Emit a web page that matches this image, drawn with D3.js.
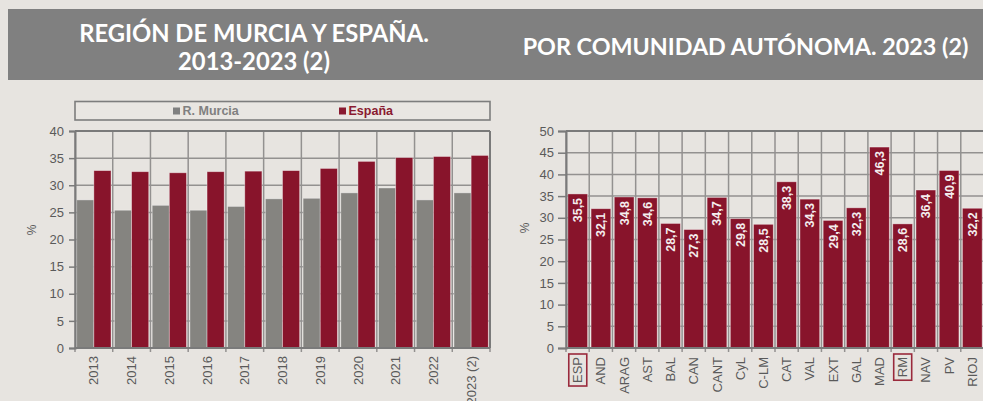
<!DOCTYPE html>
<html>
<head>
<meta charset="utf-8">
<script src="https://cdn.jsdelivr.net/npm/d3@7"></script>
<style>
  html, body { margin: 0; padding: 0; background: #e7e4e0; }
  svg { display: block; }
</style>
</head>
<body>
<svg id="chart" width="983" height="401"></svg>
<script>
// Left panel: Región de Murcia vs España, 2013-2023
const years = ["2013","2014","2015","2016","2017","2018","2019","2020","2021","2022","2023 (2)"];
const murcia = [27.3, 25.4, 26.3, 25.4, 26.1, 27.5, 27.6, 28.6, 29.5, 27.3, 28.6];
const espana = [32.7, 32.5, 32.3, 32.5, 32.6, 32.7, 33.1, 34.4, 35.1, 35.3, 35.5];
const seriesNames = ["R. Murcia", "España"];
const leftTicks = [0, 5, 10, 15, 20, 25, 30, 35, 40];

// Right panel: by autonomous community, 2023
const regions = ["ESP","AND","ARAG","AST","BAL","CAN","CANT","CyL","C-LM","CAT","VAL","EXT","GAL","MAD","RM","NAV","PV","RIOJ"];
const regionValues = [35.5, 32.1, 34.8, 34.6, 28.7, 27.3, 34.7, 29.8, 28.5, 38.3, 34.3, 29.4, 32.3, 46.3, 28.6, 36.4, 40.9, 32.2];
const highlighted = ["ESP", "RM"];
const rightTicks = [0, 5, 10, 15, 20, 25, 30, 35, 40, 45, 50];

const titleLeft = ["REGIÓN DE MURCIA Y ESPAÑA.", "2013-2023 (2)"];
const titleRight = "POR COMUNIDAD AUTÓNOMA. 2023 (2)";

const RED = "#88142b";
const GREY_BAR = "#858480";
const GRID = "#939190";
const AXIS_TEXT = "#5a5a5a";
const FONT = "Arial, 'Liberation Sans', sans-serif";
const TITLE_FONT = "Lato, 'Open Sans', sans-serif";

const svg = d3.select("#chart");

// ---- Title banner ----
svg.append("rect").attr("x", 8).attr("y", 9).attr("width", 975).attr("height", 71).attr("fill", "#808080");

function fitWidth(sel, target) {
  const w = sel.node().getComputedTextLength();
  const fs = parseFloat(sel.attr("font-size"));
  sel.attr("font-size", fs * target / w);
}
const t1 = svg.append("text").attr("x", 254).attr("y", 41.5).attr("text-anchor", "middle")
  .attr("font-family", TITLE_FONT).attr("font-weight", 700).attr("font-size", 21).attr("fill", "#fff")
  .text(titleLeft[0]);
fitWidth(t1, 350);
const t2 = svg.append("text").attr("x", 254).attr("y", 70).attr("text-anchor", "middle")
  .attr("font-family", TITLE_FONT).attr("font-weight", 700).attr("font-size", t1.attr("font-size")).attr("fill", "#fff")
  .text(titleLeft[1]);
const t3 = svg.append("text").attr("x", 745.5).attr("y", 55).attr("text-anchor", "middle")
  .attr("font-family", TITLE_FONT).attr("font-weight", 700).attr("font-size", 21).attr("fill", "#fff")
  .text(titleRight);
fitWidth(t3, 446);

// ---- Left chart ----
const L = { x0: 75, x1: 490, top: 131, bottom: 348 };
const xL = d3.scaleBand().domain(years).range([L.x0, L.x1]).padding(0);
const xSub = d3.scaleBand().domain(seriesNames).range([0, xL.bandwidth()]).paddingInner(0).paddingOuter(0.1);
const yL = d3.scaleLinear().domain([0, 40]).range([L.bottom, L.top]);

const gL = svg.append("g");
// horizontal grid
gL.selectAll("line.hg").data(leftTicks).join("line")
  .attr("x1", L.x0).attr("x2", L.x1).attr("y1", d => yL(d)).attr("y2", d => yL(d))
  .attr("stroke", GRID).attr("stroke-width", 1.5);
// vertical grid at category boundaries
const boundsL = years.map(y => xL(y)).concat([L.x1]);
gL.selectAll("line.vg").data(boundsL).join("line")
  .attr("x1", d => d).attr("x2", d => d).attr("y1", L.top).attr("y2", L.bottom + 4)
  .attr("stroke", GRID).attr("stroke-width", 1.5);

// bars
const rowsL = years.map((y, i) => ({ year: y, vals: [murcia[i], espana[i]] }));
const grpL = gL.selectAll("g.yr").data(rowsL).join("g").attr("transform", d => `translate(${xL(d.year)},0)`);
grpL.selectAll("rect").data(d => d.vals.map((v, k) => ({ name: seriesNames[k], v }))).join("rect")
  .attr("x", d => xSub(d.name)).attr("width", xSub.bandwidth())
  .attr("y", d => yL(d.v)).attr("height", d => yL(0) - yL(d.v))
  .attr("fill", d => d.name === "España" ? RED : GREY_BAR)
  .attr("stroke", "rgba(255,255,255,0.45)").attr("stroke-width", 0.8);

// frame: top and right border, axes
gL.append("line").attr("x1", L.x0).attr("x2", L.x1).attr("y1", L.top).attr("y2", L.top).attr("stroke", "#7a7a7a").attr("stroke-width", 2);
gL.append("line").attr("x1", L.x1).attr("x2", L.x1).attr("y1", L.top).attr("y2", L.bottom).attr("stroke", "#7a7a7a").attr("stroke-width", 2);
gL.append("line").attr("x1", L.x0).attr("x2", L.x1).attr("y1", L.bottom).attr("y2", L.bottom).attr("stroke", "#7a7a7a").attr("stroke-width", 2);

const yAxisL = gL.append("g").attr("transform", `translate(${L.x0},0)`)
  .call(d3.axisLeft(yL).tickValues(leftTicks).tickSize(6).tickPadding(5));
yAxisL.select(".domain").attr("stroke", "#7a7a7a").attr("stroke-width", 2);
yAxisL.selectAll(".tick line").attr("stroke", "#7a7a7a").attr("stroke-width", 1.5);
yAxisL.selectAll(".tick text").attr("font-family", FONT).attr("font-size", 13).attr("fill", AXIS_TEXT);

// x labels
gL.selectAll("text.xl").data(years).join("text")
  .attr("transform", d => `translate(${xL(d) + xL.bandwidth() / 2},356) rotate(-90)`)
  .attr("text-anchor", "end").attr("dy", "0.35em")
  .attr("font-family", FONT).attr("font-size", 13).attr("fill", AXIS_TEXT)
  .text(d => d);

svg.append("text").attr("transform", "translate(32,230) rotate(-90)").attr("text-anchor", "middle")
  .attr("dy", "0.35em").attr("font-family", FONT).attr("font-size", 12).attr("fill", AXIS_TEXT).text("%");

// legend
const lg = svg.append("g");
lg.append("rect").attr("x", 75).attr("y", 101.5).attr("width", 415).attr("height", 18.5)
  .attr("fill", "#e9e6e2").attr("stroke", "#7d7d7d").attr("stroke-width", 1.6);
const legendItems = [
  { name: seriesNames[0], color: "#808080", x: 173 },
  { name: seriesNames[1], color: "#8a1a30", x: 339 }
];
const li = lg.selectAll("g.li").data(legendItems).join("g").attr("transform", d => `translate(${d.x},0)`);
li.append("rect").attr("x", 0).attr("y", 107.5).attr("width", 7).attr("height", 7).attr("fill", d => d.color);
li.append("text").attr("x", 9.5).attr("y", 115).attr("font-family", FONT).attr("font-weight", 700)
  .attr("font-size", 12.5).attr("fill", d => d.color).text(d => d.name);

// ---- Right chart ----
const R = { x0: 566, x1: 984, top: 131, bottom: 348 };
const xR = d3.scaleBand().domain(regions).range([R.x0, R.x1]).paddingInner(0.15).paddingOuter(0.08);
const yR = d3.scaleLinear().domain([0, 50]).range([R.bottom, R.top]);
const stepR = xR.step();
const boundsR = regions.map((r, i) => R.x0 + i * (R.x1 - R.x0) / regions.length).concat([R.x1]);

const gR = svg.append("g");
gR.selectAll("line.hg").data(rightTicks).join("line")
  .attr("x1", R.x0).attr("x2", R.x1).attr("y1", d => yR(d)).attr("y2", d => yR(d))
  .attr("stroke", GRID).attr("stroke-width", 1.5);
gR.selectAll("line.vg").data(boundsR).join("line")
  .attr("x1", d => d).attr("x2", d => d).attr("y1", R.top).attr("y2", R.bottom + 4)
  .attr("stroke", GRID).attr("stroke-width", 1.5);

const rowsR = regions.map((r, i) => ({ r, v: regionValues[i] }));
gR.selectAll("rect.bar").data(rowsR).join("rect")
  .attr("x", d => xR(d.r)).attr("width", xR.bandwidth())
  .attr("y", d => yR(d.v)).attr("height", d => yR(0) - yR(d.v))
  .attr("fill", RED).attr("stroke", "rgba(255,255,255,0.45)").attr("stroke-width", 0.8);

gR.append("line").attr("x1", R.x0).attr("x2", R.x1).attr("y1", R.top).attr("y2", R.top).attr("stroke", "#7a7a7a").attr("stroke-width", 2);
gR.append("line").attr("x1", R.x0).attr("x2", R.x1).attr("y1", R.bottom).attr("y2", R.bottom).attr("stroke", "#7a7a7a").attr("stroke-width", 2);

const yAxisR = gR.append("g").attr("transform", `translate(${R.x0},0)`)
  .call(d3.axisLeft(yR).tickValues(rightTicks).tickSize(8).tickPadding(4));
yAxisR.select(".domain").attr("stroke", "#7a7a7a").attr("stroke-width", 2);
yAxisR.selectAll(".tick line").attr("stroke", "#7a7a7a").attr("stroke-width", 1.5);
yAxisR.selectAll(".tick text").attr("font-family", FONT).attr("font-size", 13).attr("fill", AXIS_TEXT);

// value labels inside bars
const fmt = v => d3.format(".1f")(v).replace(".", ",");
gR.selectAll("text.val").data(rowsR).join("text")
  .attr("transform", d => `translate(${xR(d.r) + xR.bandwidth() / 2},${yR(d.v) + 4}) rotate(-90)`)
  .attr("text-anchor", "end").attr("dy", "0.36em")
  .attr("font-family", FONT).attr("font-weight", 700).attr("font-size", 12.5).attr("fill", "#f4eeee")
  .text(d => fmt(d.v));

// category labels
const xlabR = gR.selectAll("g.xl").data(regions).join("g")
  .attr("transform", d => `translate(${xR(d) + xR.bandwidth() / 2},357) rotate(-90)`);
xlabR.append("text").attr("text-anchor", "end").attr("dy", "0.35em")
  .attr("font-family", FONT).attr("font-size", 13).attr("fill", AXIS_TEXT)
  .text(d => d);
xlabR.filter(d => highlighted.includes(d)).each(function () {
  const g = d3.select(this);
  const bb = g.select("text").node().getBBox();
  g.insert("rect", "text")
    .attr("x", bb.x - 3).attr("y", bb.y - 1.5).attr("width", bb.width + 6).attr("height", bb.height + 3)
    .attr("fill", "none").attr("stroke", "#9a2a3c").attr("stroke-width", 1.6);
});

svg.append("text").attr("transform", "translate(525,228) rotate(-90)").attr("text-anchor", "middle")
  .attr("dy", "0.35em").attr("font-family", FONT).attr("font-size", 12).attr("fill", AXIS_TEXT).text("%");
</script>
</body>
</html>
